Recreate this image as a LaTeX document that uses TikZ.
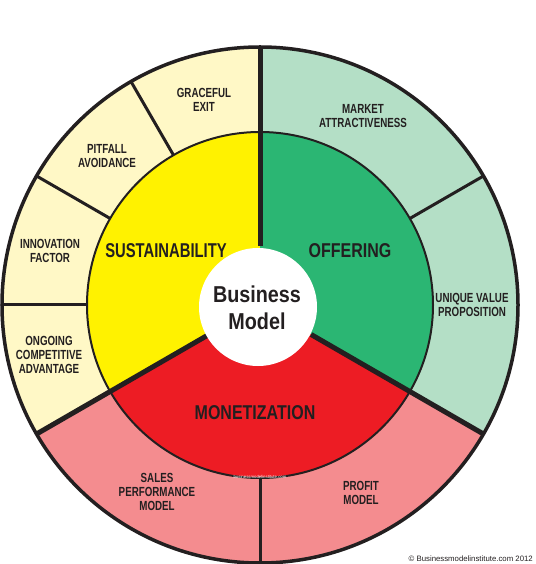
\documentclass[tikz,border=0pt]{standalone}
\usepackage{fontspec}
\setmainfont{Liberation Sans}
\newfontfamily\narrowfont{Liberation Sans}[FakeStretch=0.74]
\newfontfamily\midfont{Liberation Sans}[FakeStretch=0.80]
\newfontfamily\hubfont{Liberation Sans}[FakeStretch=0.86]
\usepackage{tikz}
\usetikzlibrary{positioning}

\definecolor{ink}{HTML}{231F20}
\definecolor{susdark}{HTML}{FFF200}
\definecolor{suslight}{HTML}{FFF8C6}
\definecolor{offdark}{HTML}{2BB673}
\definecolor{offlight}{HTML}{B4DFC6}
\definecolor{mondark}{HTML}{ED1C24}
\definecolor{monlight}{HTML}{F48C8F}

\newcommand{\rOut}{258}
\newcommand{\rMid}{173}
\newcommand{\rHub}{59}

\begin{document}
\begin{tikzpicture}[
    x=1pt, y=1pt,
    part/.style={font=\narrowfont\bfseries\fontsize{13.2}{13.9}\selectfont, align=center, text=ink},
    pillar/.style={font=\midfont\bfseries\fontsize{20}{22}\selectfont, text=ink},
    hub/.style={font=\hubfont\bfseries\fontsize{23}{27}\selectfont, align=center, text=ink},
    rim/.style={draw=ink, line width=3.5pt},
    ring/.style={draw=ink, line width=2pt},
    mainline/.style={draw=ink, line width=5pt},
    subline/.style={draw=ink, line width=3pt}
]
    \useasboundingbox (-260,-259) rectangle (275,305);

    % outer ring
    \fill[suslight] (0,0) -- (90:\rOut) arc[start angle=90, end angle=210, radius=\rOut] -- cycle;
    \fill[offlight] (0,0) -- (-30:\rOut) arc[start angle=-30, end angle=90, radius=\rOut] -- cycle;
    \fill[monlight] (0,0) -- (210:\rOut) arc[start angle=210, end angle=330, radius=\rOut] -- cycle;

    % pillars
    \fill[susdark] (0,0) -- (90:\rMid) arc[start angle=90, end angle=210, radius=\rMid] -- cycle;
    \fill[offdark] (0,0) -- (-30:\rMid) arc[start angle=-30, end angle=90, radius=\rMid] -- cycle;
    \fill[mondark] (0,0) -- (210:\rMid) arc[start angle=210, end angle=330, radius=\rMid] -- cycle;

    \draw[ring] (0,0) circle[radius=\rMid];
    \draw[rim] (0,0) circle[radius=\rOut];
    \foreach \a in {30,120,150,180,270}
        \draw[subline] (\a:\rMid) -- (\a:\rOut);
    \foreach \a in {90,210,330}
        \draw[mainline] (\a:\rHub) -- (\a:\rOut);
    \fill[white] (-2,-2) circle[radius=\rHub];

    \node[hub] (business) at (-3,-3) {Business\\Model};

    \node[pillar, font=\narrowfont\bfseries\fontsize{20}{22}\selectfont] (sustain) at (-94,54) {SUSTAINABILITY};
    \node[pillar] (offer) at (90,54) {OFFERING};
    \node[pillar] (monet) at (-5,-108) {MONETIZATION};

    \node[part] (exit) at (-56,205) {GRACEFUL\\EXIT};
    \node[part] (pitfall) at (-153,149) {PITFALL\\AVOIDANCE};
    \node[part] (innov) at (-210,54) {INNOVATION\\FACTOR};
    \node[part] (ongoing) at (-211,-50) {ONGOING\\COMPETITIVE\\ADVANTAGE};
    \node[part] (market) at (103,189) {MARKET\\ATTRACTIVENESS};
    \node[part] (unique) at (212,0) {UNIQUE VALUE\\PROPOSITION};
    \node[part] (sales) at (-103,-187) {SALES\\PERFORMANCE\\MODEL};
    \node[part] (profit) at (101,-188) {PROFIT\\MODEL};

    \node[text=white, font=\fontsize{4.3}{5}\selectfont, inner sep=0pt] (web) at (0,-172) {businessmodelinstitute.com};
    \node[text=ink, font=\fontsize{7.8}{9}\selectfont, anchor=east, inner sep=0pt] (copy) at (273,-254) {© Businessmodelinstitute.com 2012};
\end{tikzpicture}
\end{document}
